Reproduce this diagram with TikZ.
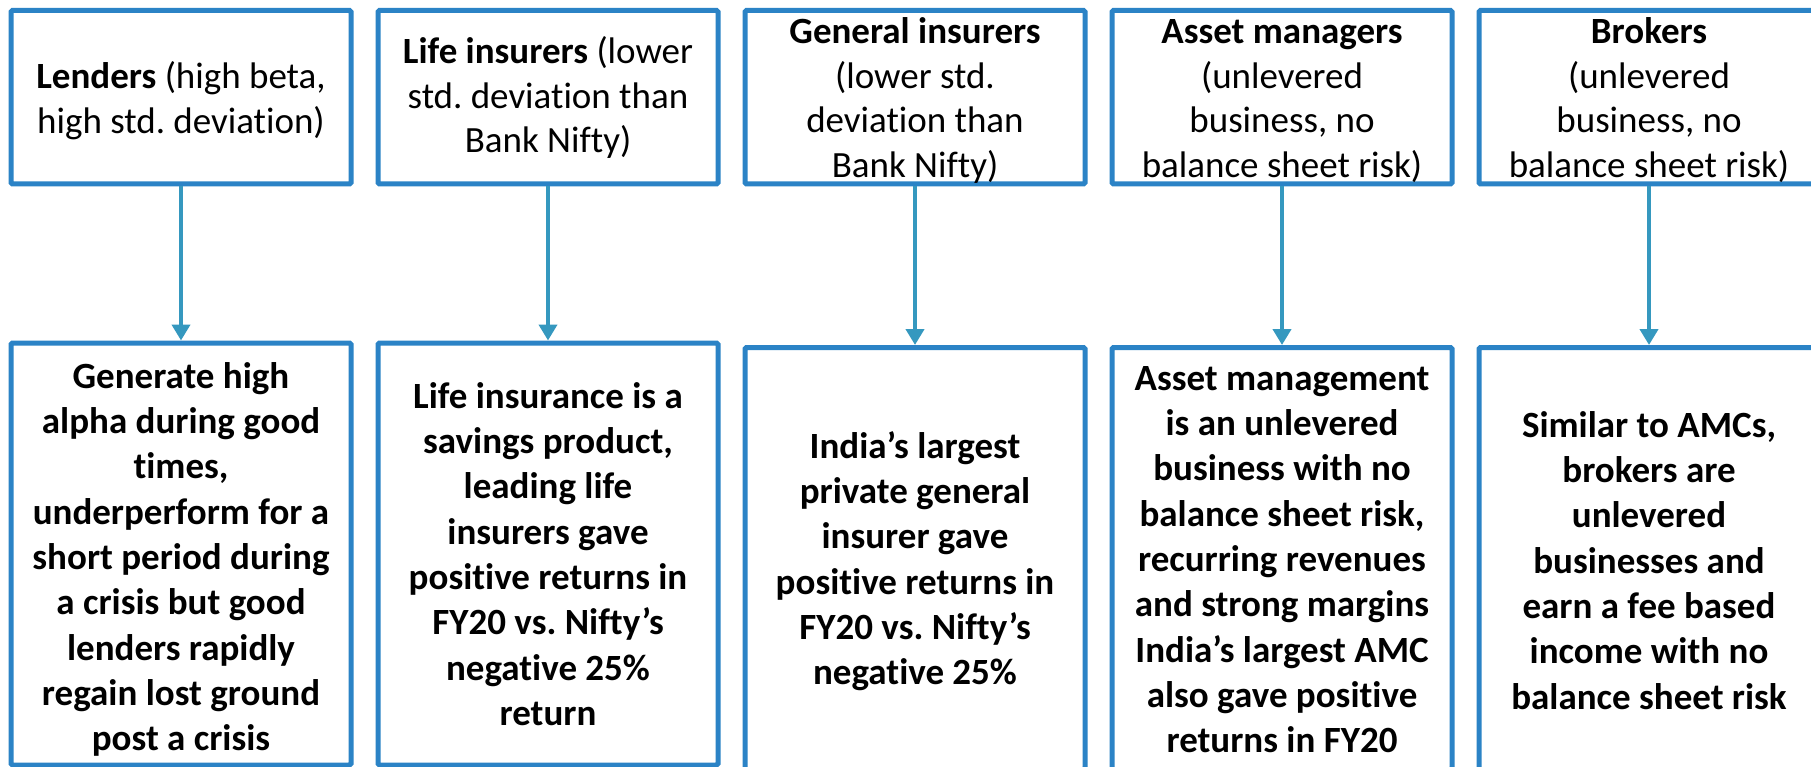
\documentclass[tikz,border=0pt]{standalone}
\usepackage{fontspec}
\setmainfont{Carlito}[Ligatures=NoCommon]
\frenchspacing
\usetikzlibrary{arrows.meta}
\definecolor{boxblue}{HTML}{2B83C6}
\definecolor{arrteal}{HTML}{3598BF}
\newcommand{\firstl}{\rule{0pt}{32pt}}
\newcommand{\lastl}{\rule[-12pt]{0pt}{12pt}}
\tikzset{
  box/.style={draw=boxblue, line width=5pt, rounded corners=1.5pt, fill=white,
    minimum width=340pt, inner sep=0pt},
  topbox/.style={box, minimum height=173.5pt},
  botbox/.style={box, minimum height=422pt},
  toptext/.style={align=center, anchor=north, inner sep=0pt, font=\frenchspacing\fontsize{37}{44.9}\selectfont},
  bottext/.style={align=center, anchor=north, inner sep=0pt, font=\frenchspacing\fontsize{37}{45.3}\selectfont\bfseries},
  arr/.style={draw=arrteal, line width=4.5pt, -{Triangle[width=18pt,length=16pt]}}
}
\begin{document}
\begin{tikzpicture}[x=1pt,y=-1pt]
\useasboundingbox (0,0) rectangle (1811,767);
\clip (0,0) rectangle (1811,767);
\fill[white] (0,0) rectangle (1811,767);
% top boxes
\node[topbox] (t1) at (181,97.25) {};
\node[topbox] (t2) at (548,97.25) {};
\node[topbox] (t3) at (915,97.25) {};
\node[topbox] (t4) at (1282,97.25) {};
\node[topbox] (t5) at (1649,97.25) {};
% bottom boxes
\node[botbox] (b1) at (181,554) {};
\node[botbox] (b2) at (548,554) {};
\node[botbox] (b3) at (915,558.5) {};
\node[botbox] (b4) at (1282,558.5) {};
\node[botbox] (b5) at (1649,558.5) {};
% arrows
\draw[arr] (t1.south) -- (b1.north);
\draw[arr] (t2.south) -- (b2.north);
\draw[arr] (t3.south) -- (b3.north);
\draw[arr] (t4.south) -- (b4.north);
\draw[arr] (t5.south) -- (b5.north);
% top texts (anchor at first baseline minus 32pt)
\node[toptext] (tt1) at (181,56) {\firstl\textbf{Lenders} (high beta,\\high std. deviation)\lastl};
\node[toptext] (tt2) at (548,31) {\firstl\textbf{Life insurers} (lower\\std. deviation than\\Bank Nifty)\lastl};
\node[toptext] (tt3) at (915,11) {\firstl\textbf{General insurers}\\(lower std.\\deviation than\\Bank Nifty)\lastl};
\node[toptext] (tt4) at (1282,11) {\firstl\textbf{Asset managers}\\(unlevered\\business, no\\balance sheet risk)\lastl};
\node[toptext] (tt5) at (1649,11) {\firstl\textbf{Brokers}\\(unlevered\\business, no\\balance sheet risk)\lastl};
% bottom texts
\node[bottext] (bt1) at (181,356) {\firstl Generate high\\alpha during good\\times,\\underperform for a\\short period during\\a crisis but good\\lenders rapidly\\regain lost ground\\post a crisis\lastl};
\node[bottext] (bt2) at (548,376) {\firstl Life insurance is a\\savings product,\\leading life\\insurers gave\\positive returns in\\FY20 vs. Nifty’s\\negative 25\%\\return\lastl};
\node[bottext] (bt3) at (915,426) {\firstl India’s largest\\private general\\insurer gave\\positive returns in\\FY20 vs. Nifty’s\\negative 25\%\lastl};
\node[bottext] (bt4) at (1282,358) {\firstl Asset management\\is an unlevered\\business with no\\balance sheet risk,\\recurring revenues\\and strong margins\\India’s largest AMC\\also gave positive\\returns in FY20\lastl};
\node[bottext] (bt5) at (1649,405) {\firstl Similar to AMCs,\\brokers are\\unlevered\\businesses and\\earn a fee based\\income with no\\balance sheet risk\lastl};
\end{tikzpicture}
\end{document}
